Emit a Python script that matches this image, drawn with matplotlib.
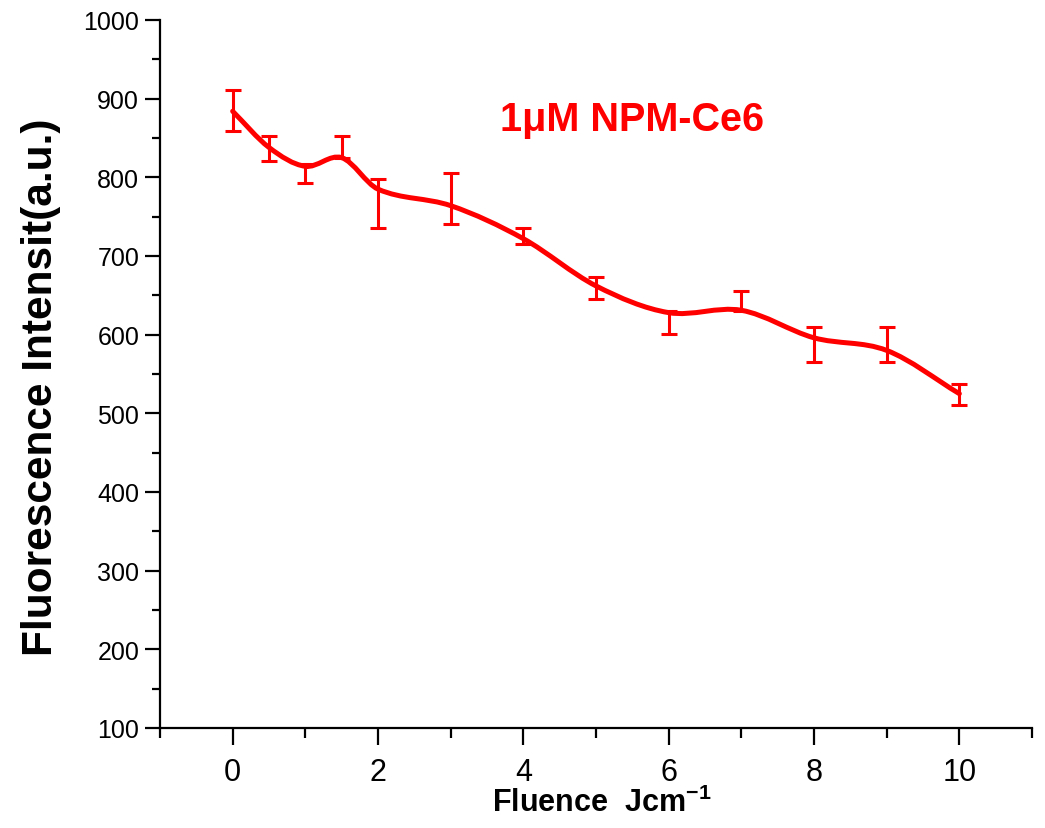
import matplotlib
matplotlib.use("Agg")
import matplotlib.pyplot as plt
from matplotlib.path import Path
from matplotlib.patches import PathPatch
from matplotlib.ticker import MultipleLocator

# ---- data ----
fluence = [0, 0.5, 1, 1.5, 2, 3, 4, 5, 6, 7, 8, 9, 10]
intensity = [884, 838, 814, 825, 785, 764, 722, 662, 628, 631, 596, 580, 525]
err_up = [27, 14, 3, 28, 13, 41, 14, 11, 2, 25, 14, 30, 12]
err_down = [25, 17, 21, 1, 49, 23, 7, 17, 27, 1, 31, 15, 14]
xticks = [0, 2, 4, 6, 8, 10]
yticks = [100, 200, 300, 400, 500, 600, 700, 800, 900, 1000]
series_label = "1\u03bcM NPM-Ce6"
xlabel = r"Fluence  Jcm$^{\mathbf{-1}}$"
ylabel = "Fluorescence Intensit(a.u.)"

RED = "#ff0000"
ARIAL = ["Liberation Sans", "DejaVu Sans"]

plt.rcParams["mathtext.fontset"] = "custom"
plt.rcParams["mathtext.bf"] = "Liberation Sans:bold"
plt.rcParams["mathtext.rm"] = "Liberation Sans:bold"

fig = plt.figure(figsize=(10.45, 8.29), dpi=100)
ax = fig.add_axes([160 / 1045, 100 / 829, 872 / 1045, 708 / 829])

# smooth connecting curve (Bezier segments through the data points)
n = len(fluence)
tang = []
for i in range(n):
    a = max(i - 1, 0)
    b = min(i + 1, n - 1)
    tang.append((intensity[b] - intensity[a]) / (fluence[b] - fluence[a]))
verts = [(fluence[0], intensity[0])]
codes = [Path.MOVETO]
for i in range(n - 1):
    h = fluence[i + 1] - fluence[i]
    verts += [(fluence[i] + h / 3, intensity[i] + tang[i] * h / 3),
              (fluence[i + 1] - h / 3, intensity[i + 1] - tang[i + 1] * h / 3),
              (fluence[i + 1], intensity[i + 1])]
    codes += [Path.CURVE4] * 3
ax.add_patch(PathPatch(Path(verts, codes), facecolor="none", edgecolor=RED,
                       lw=3.6, capstyle="round", joinstyle="round", zorder=3))

ax.errorbar(fluence, intensity, yerr=[err_down, err_up], fmt="none",
            ecolor=RED, elinewidth=2.2, capsize=6, capthick=2.2, zorder=4)

ax.set_xlim(-1, 11)
ax.set_ylim(100, 1000)
ax.set_xticks(xticks)
ax.set_yticks(yticks)
ax.xaxis.set_minor_locator(MultipleLocator(1))
ax.yaxis.set_minor_locator(MultipleLocator(50))

for s in ["top", "right"]:
    ax.spines[s].set_visible(False)
for s in ["left", "bottom"]:
    ax.spines[s].set_linewidth(1.6)

ax.tick_params(axis="both", which="both", direction="out", width=1.6, color="black")
ax.tick_params(axis="y", which="major", length=11, pad=4)
ax.tick_params(axis="y", which="minor", length=6)
ax.tick_params(axis="x", which="major", length=12, pad=9)
ax.tick_params(axis="x", which="minor", length=7)

for lab in ax.get_yticklabels():
    lab.set_family(ARIAL)
    lab.set_fontsize(18)
for lab in ax.get_xticklabels():
    lab.set_family(ARIAL)
    lab.set_fontsize(22)

ax.set_xlabel(xlabel, family=ARIAL, fontsize=22, fontweight="bold")
ax.xaxis.set_label_coords(0.507, -0.083)
ax.set_ylabel(ylabel, family=ARIAL, fontsize=30.5, fontweight="bold", va="center")
ax.yaxis.set_label_coords(-0.1365, 0.483)

ax.text(0.39, 0.86, series_label, transform=ax.transAxes, color=RED,
        family=ARIAL, fontsize=28.5, fontweight="bold", ha="left", va="center")

fig.savefig("out.png", dpi=100)
